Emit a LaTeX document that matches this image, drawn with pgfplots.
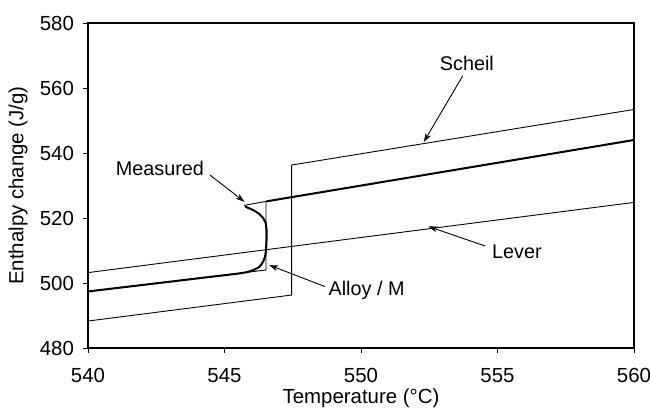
\documentclass[border=0pt]{standalone}
\usepackage{pgfplots}
\pgfplotsset{compat=1.18}
\usepackage{fontspec}
\setmainfont{Liberation Sans}
\usetikzlibrary{arrows.meta}

\begin{document}
\begin{tikzpicture}
\begin{axis}[
  scale only axis,
  width=273pt, height=162.5pt,
  xmin=540, xmax=560, ymin=480, ymax=580,
  xtick={540,545,550,555,560},
  ytick={480,500,520,540,560,580},
  tick align=outside,
  xtick pos=left, ytick pos=left,
  major tick length=2.5pt,
  axis line style={line width=0.7pt},
  tick style={line width=0.5pt, black},
  /pgf/number format/assume math mode=true,
  /pgf/number format/1000 sep={},
  tick label style={font=\fontsize{10.2}{12}\selectfont},
  label style={font=\fontsize{10.2}{12}\selectfont},
  xlabel={Temperature (°C)},
  ylabel={Enthalpy change (J/g)},
  xlabel style={at={(axis description cs:0.5,-0.153)}, anchor=center},
  ylabel style={at={(axis description cs:-0.128,0.5)}, anchor=center},
  xticklabel style={yshift=-4pt},
  yticklabel style={xshift=-1pt},
  unbounded coords=jump,
  clip=false,
]
% Lever rule
\addplot[black, line width=0.45pt] coordinates {(540,503.2) (560,524.8)};
% Scheil
\addplot[black, line width=0.45pt] coordinates {
  (540,488.3) (547.46,496.3) (547.46,536.3) (560,553.4)};
% Alloy / M step
\addplot[black, line width=0.45pt] coordinates {
  (540,497.4) (546.52,504.0) (546.52,525.1) (560,544.0)};
\addplot[black, line width=0.45pt] coordinates {(545.72,523.9) (546.52,525.1)};
% Measured
\addplot[black, line width=1.0pt, line join=round, smooth, tension=0.4] coordinates {
  (540,497.4) (545.0,502.4) (545.5,502.9) (545.8,503.3) (546.06,504.0)
  (546.28,505.0) (546.40,506.4) (546.48,508.0) (546.52,510.2) (546.54,513.2)
  (546.54,516.3) (546.51,518.4) (546.42,519.9) (546.28,521.2) (546.06,522.4)
  (545.87,523.1) (545.75,523.6)};
\addplot[black, line width=1.0pt] coordinates {(546.52,525.1) (560,544.0)};

% annotations
\tikzset{lbl/.style={font=\fontsize{9.9}{12}\selectfont, inner sep=0pt},
         arr/.style={-{Stealth[length=4.5pt,width=3pt]}, line width=0.45pt}}
\node[lbl] at (axis cs:553.88,567.5) {Scheil};
\draw[arr] (axis cs:553.73,563.8) -- (axis cs:552.3,543.4);
\node[lbl, anchor=east] at (axis cs:544.26,535.3) {Measured};
\draw[arr] (axis cs:544.47,533.2) -- (axis cs:545.73,525.0);
\node[lbl, anchor=west] at (axis cs:548.80,497.8) {Alloy / M};
\draw[arr] (axis cs:548.68,498.9) -- (axis cs:546.64,505.5);
\node[lbl, anchor=west] at (axis cs:554.79,509.6) {Lever};
\draw[arr] (axis cs:554.54,511.4) -- (axis cs:552.47,517.4);
\end{axis}
\pgfresetboundingbox
\useasboundingbox ([xshift=-44pt,yshift=-32.5pt]current axis.south west)
  rectangle ([xshift=8pt,yshift=11.5pt]current axis.north east);
\end{tikzpicture}
\end{document}
